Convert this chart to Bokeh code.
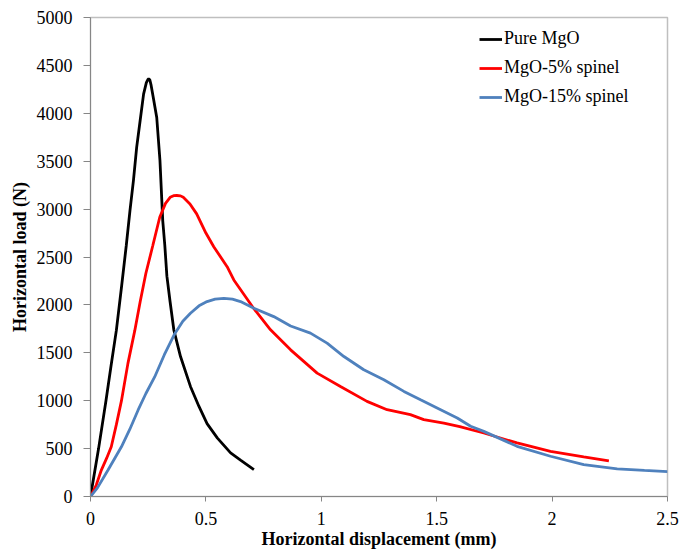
from bokeh.plotting import figure
from bokeh.models import Range1d, FixedTicker, Legend, LegendItem
from bokeh.embed import file_html
from bokeh.resources import INLINE

# ---- data ----
pure_x = [0, 0.035, 0.067, 0.09, 0.112, 0.135, 0.155, 0.171, 0.186, 0.2, 0.215, 0.23, 0.242,
          0.248, 0.252, 0.257, 0.262, 0.272, 0.287, 0.301, 0.309, 0.313, 0.322, 0.331, 0.345,
          0.361, 0.39, 0.433, 0.47, 0.505, 0.55, 0.607, 0.65, 0.708]
pure_y = [0, 500, 1000, 1380, 1734, 2200, 2620, 2984, 3297, 3644, 3922, 4200, 4320,
          4350, 4360, 4350, 4300, 4164, 3956, 3505, 3089, 2880, 2620, 2300, 2030,
          1740, 1461, 1149, 940, 760, 610, 455, 380, 281]

sp5_x = [0, 0.025, 0.047, 0.07, 0.09, 0.112, 0.134, 0.162, 0.192, 0.215, 0.24, 0.27, 0.3, 0.325,
         0.345, 0.36, 0.374, 0.39, 0.402, 0.431, 0.46, 0.5, 0.534, 0.592, 0.621, 0.708, 0.78,
         0.867, 0.982, 1.083, 1.198, 1.285, 1.386, 1.444, 1.531, 1.6, 1.704, 1.848, 1.993,
         2.137, 2.246]
sp5_y = [0, 120, 276, 400, 519, 750, 998, 1387, 1734, 2030, 2330, 2620, 2915, 3060,
         3123, 3140, 3142, 3138, 3123, 3054, 2950, 2750, 2607, 2399, 2260, 1960, 1740,
         1531, 1288, 1149, 993, 906, 854, 802, 767, 730, 663, 559, 472,
         413, 372]

sp15_x = [0, 0.03, 0.076, 0.134, 0.17, 0.206, 0.24, 0.278, 0.32, 0.365, 0.4, 0.433, 0.47, 0.505,
          0.54, 0.578, 0.615, 0.65, 0.708, 0.794, 0.867, 0.953, 1.025, 1.098, 1.184, 1.271,
          1.358, 1.43, 1.517, 1.589, 1.647, 1.704, 1.848, 1.993, 2.137, 2.282, 2.4, 2.5]
sp15_y = [0, 90, 276, 519, 700, 901, 1075, 1248, 1480, 1700, 1830, 1913, 1990, 2035,
          2060, 2069, 2060, 2035, 1965, 1878, 1780, 1705, 1601, 1461, 1323, 1219,
          1097, 1010, 906, 820, 733, 680, 524, 420, 333, 288, 272, 260]

series_names = ["Pure MgO", "MgO-5% spinel", "MgO-15% spinel"]
x_ticks = [0, 0.5, 1, 1.5, 2, 2.5]
y_ticks = [0, 500, 1000, 1500, 2000, 2500, 3000, 3500, 4000, 4500, 5000]

FONT = "Liberation Serif"

p = figure(width=679, height=553, output_backend="svg", toolbar_location=None,
           x_range=Range1d(0, 2.5), y_range=Range1d(0, 5000),
           min_border_left=90, min_border_right=12, min_border_top=17, min_border_bottom=57)

p.xgrid.visible = False
p.ygrid.visible = False
p.outline_line_color = "#BFBFBF"
p.outline_line_width = 1.5
p.background_fill_color = "white"
p.border_fill_color = "white"

for ax, ticks in ((p.xaxis[0], x_ticks), (p.yaxis[0], y_ticks)):
    ax.ticker = FixedTicker(ticks=ticks)
    ax.axis_line_color = "#868686"
    ax.major_tick_line_color = "#868686"
    ax.minor_tick_line_color = None
    ax.major_tick_in = 0
    ax.major_label_text_font = FONT
    ax.major_label_text_font_size = "18px"
    ax.major_label_text_color = "black"
    ax.axis_label_text_font = FONT
    ax.axis_label_text_font_size = "18px"
    ax.axis_label_text_font_style = "bold"
    ax.axis_label_text_color = "black"

p.xaxis.major_label_overrides = {0: "0", 0.5: "0.5", 1: "1", 1.5: "1.5", 2: "2", 2.5: "2.5"}
p.xaxis.major_tick_out = 5
p.xaxis.major_label_standoff = 10
p.xaxis.axis_label_standoff = 1
p.xaxis.axis_label = "Horizontal displacement (mm)"

p.yaxis.major_tick_out = 7
p.yaxis.major_label_standoff = 11
p.yaxis.axis_label_standoff = 4
p.yaxis.axis_label = "Horizontal load (N)"

r1 = p.line(pure_x, pure_y, line_color="black", line_width=2.8)
r2 = p.line(sp5_x, sp5_y, line_color="#FF0000", line_width=2.8)
r3 = p.line(sp15_x, sp15_y, line_color="#4F81BD", line_width=2.8)

legend = Legend(items=[LegendItem(label=series_names[0], renderers=[r1]),
                       LegendItem(label=series_names[1], renderers=[r2]),
                       LegendItem(label=series_names[2], renderers=[r3])],
                location=(389, 389))
legend.border_line_color = None
legend.background_fill_alpha = 0
legend.padding = 0
legend.margin = 0
legend.spacing = 8
legend.glyph_width = 23
legend.glyph_height = 20
legend.label_height = 20
legend.label_standoff = 2
legend.label_text_font = FONT
legend.label_text_font_size = "18px"
legend.label_text_color = "black"
p.add_layout(legend, "center")

open("out.html", "w").write(file_html(p, INLINE))
